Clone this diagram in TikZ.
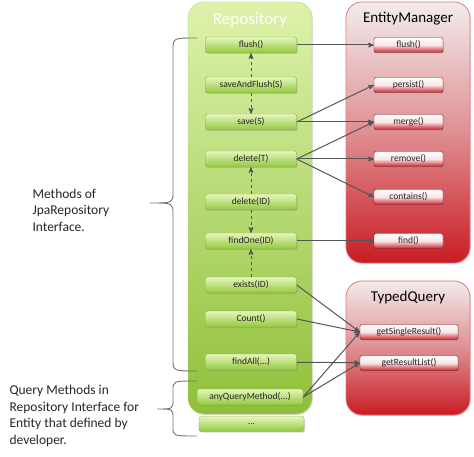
\documentclass[tikz,border=0pt]{standalone}
\usepackage{fontspec}
\setmainfont{Carlito}
\usetikzlibrary{positioning, arrows, calc, shadows}
\definecolor{repolight}{HTML}{DDF2AC}
\definecolor{repogreen}{HTML}{8FC03A}
\definecolor{methlight}{HTML}{E6F6BC}
\definecolor{methgreen}{HTML}{93C840}
\definecolor{methline}{HTML}{84B03C}
\definecolor{emlight}{HTML}{F2ECEC}
\definecolor{emred}{HTML}{C91C23}
\definecolor{emline}{HTML}{E8777B}
\definecolor{callred}{HTML}{CC222A}
\definecolor{arrowgray}{HTML}{555555}
\tikzset{
x=1pt, y=-1pt, % pixel like units, y grows downwards
>=stealth', % arrow heads of the connectors
panel/.style={rounded corners=16pt, inner sep=0pt, drop shadow={shadow xshift=1pt, shadow yshift=-1pt, opacity=0.25}},
repopanel/.style={panel, top color=repolight, bottom color=repogreen, draw=repogreen!70!white},
empanel/.style={panel, top color=emlight, bottom color=emred, middle color=emred!45!emlight, draw=emline, line width=0.8pt},
title/.style={font=\fontsize{15}{17}\selectfont},
method/.style={draw=methline, rounded corners=2pt, top color=methlight, bottom color=methgreen, minimum width=91pt, minimum height=16pt, inner sep=0pt, font=\fontsize{9.5}{10}\selectfont, text=black!85, drop shadow={shadow xshift=1pt, shadow yshift=-1pt, opacity=0.3}},
call/.style={draw=callred!60!black, rounded corners=2pt, top color=white, bottom color=callred, middle color=callred!12!white, minimum width=69pt, minimum height=15pt, inner sep=0pt, font=\fontsize{9.5}{10}\selectfont, text=black!85, drop shadow={shadow xshift=1pt, shadow yshift=-1pt, opacity=0.3}},
calls/.style={->, arrowgray, line width=1pt},
delegates/.style={->, arrowgray, line width=1pt, dashed},
bracket/.style={draw=gray!90!black, line width=0.9pt},
note/.style={align=left, anchor=west, font=\fontsize{13.5}{16.5}\selectfont, text=black!85},
}

\begin{document}
\begin{tikzpicture}
    \useasboundingbox (0,0) rectangle (474,457);
    % panels
    \node[repopanel, minimum width=124pt, minimum height=412pt] (repo) at (250,208) {};
    \node[empanel, minimum width=124pt, minimum height=261pt] (em) at (408,132.5) {};
    \node[empanel, minimum width=124pt, minimum height=134pt] (tq) at (408,348) {};
    \node[title, text=white, font=\fontsize{17}{19}\selectfont] (repotitle) at (250,20) {Repository};
    \node[title] (emtitle) at (408,19) {EntityManager};
    \node[title] (tqtitle) at (408,298) {TypedQuery};
    % repository methods
    \node[method] (flush) at (251,45) {flush()};
    \node[method] (saveflush) at (251,85) {saveAndFlush(S)};
    \node[method] (save) at (251,122) {save(S)};
    \node[method] (deleteT) at (251,159) {delete(T)};
    \node[method] (deleteID) at (251,202) {delete(ID)};
    \node[method] (findone) at (251,241) {findOne(ID)};
    \node[method] (exists) at (251,285) {exists(ID)};
    \node[method] (count) at (251,319) {Count()};
    \node[method] (findall) at (251,362) {findAll(...)};
    \node[method, minimum width=106pt] (anyquery) at (250,397) {anyQueryMethod(...)};
    \node[method, minimum width=105pt, minimum height=15pt] (more) at (251.5,424) {...};
    % entity manager and typed query methods
    \node[call] (emflush) at (408.5,45) {flush()};
    \node[call] (persist) at (408.5,85) {persist()};
    \node[call] (merge) at (408.5,122) {merge()};
    \node[call] (remove) at (408.5,159) {remove()};
    \node[call] (contains) at (408.5,197) {contains()};
    \node[call] (find) at (408.5,241) {find()};
    \node[call, minimum width=98pt] (single) at (409,332) {getSingleResult()};
    \node[call, minimum width=98pt] (list) at (409,363) {getResultList()};
    % connectors
    \draw[delegates] (saveflush) -- (flush);
    \draw[delegates] (saveflush) -- (save);
    \draw[delegates] (deleteID) -- (deleteT);
    \draw[delegates] (deleteID) -- (findone);
    \draw[delegates] (exists) -- (findone);
    \draw[calls] (flush) -- (emflush);
    \draw[calls] (save.east) -- (persist.west);
    \draw[calls] (save) -- (merge);
    \draw[calls] (deleteT.east) -- (merge.west);
    \draw[calls] (deleteT) -- (remove);
    \draw[calls] (deleteT.east) -- (contains.west);
    \draw[calls] (findone) -- (find);
    \draw[calls] (exists.east) -- (single.west);
    \draw[calls] (count.east) -- (single.west);
    \draw[calls] (findall) -- (list);
    \draw[calls] (anyquery.east) -- (single.west);
    \draw[calls] (anyquery.east) -- (list.west);
    % braces and notes
    \coordinate (jpatop) at (197,38);
    \coordinate (jpatip) at (150,203);
    \coordinate (jpabottom) at (197,371);
    \coordinate (qmtop) at (197,381);
    \coordinate (qmtip) at (157,409);
    \coordinate (qmbottom) at (197,436);
    \draw[bracket] (jpatop) .. controls (173,38) .. (173,50) -- (173,192)
        .. controls (173,203) .. (jpatip) .. controls (173,203) .. (173,214)
        -- (173,359) .. controls (173,371) .. (jpabottom);
    \draw[bracket] (qmtop) .. controls (173,381) .. (173,390) -- (173,400)
        .. controls (173,409) .. (qmtip) .. controls (173,409) .. (173,418)
        -- (173,427) .. controls (173,436) .. (qmbottom);
    \node[note] (jpanote) at (29,210) {Methods of\\JpaRepository\\Interface.};
    \node[note] (qmnote) at (6,416) {Query Methods in\\Repository Interface for\\Entity that defined by\\developer.};
\end{tikzpicture}
\end{document}
